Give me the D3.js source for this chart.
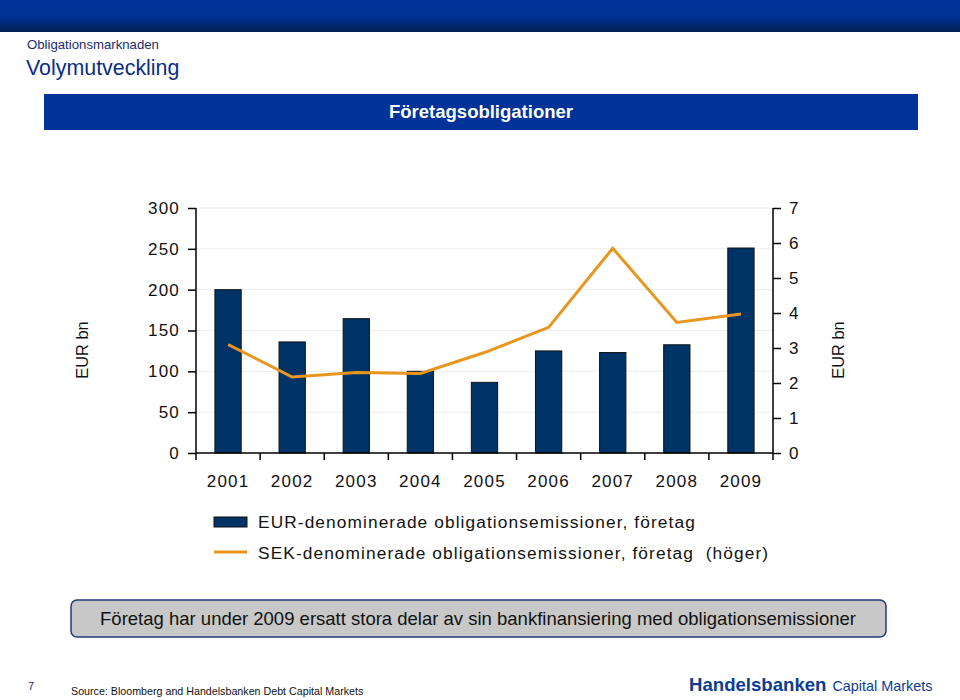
<!DOCTYPE html>
<html><head><meta charset="utf-8">
<script src="https://cdn.jsdelivr.net/npm/d3@7/dist/d3.min.js"></script>
<style>
body{margin:0;background:#fff;}
svg{display:block;font-family:"Liberation Sans",Arial,sans-serif;}
</style></head>
<body>
<svg id="c" width="960" height="700"></svg>
<script>
const years = ["2001","2002","2003","2004","2005","2006","2007","2008","2009"];
const eurValues = [200,136,164.5,100,86.5,125,123,132.5,251];
const sekValues = [3.1,2.17,2.3,2.27,2.87,3.59,5.85,3.73,3.97];
const leftTicks = [0,50,100,150,200,250,300];
const rightTicks = [0,1,2,3,4,5,6,7];
const legendLabels = ["EUR-denominerade obligationsemissioner, företag","SEK-denominerade obligationsemissioner, företag  (höger)"];

const svg = d3.select("#c");
const defs = svg.append("defs");
const g1 = defs.append("linearGradient").attr("id","hdr").attr("x1",0).attr("y1",0).attr("x2",0).attr("y2",1);
g1.append("stop").attr("offset","0%").attr("stop-color","#003399");
g1.append("stop").attr("offset","55%").attr("stop-color","#003091");
g1.append("stop").attr("offset","100%").attr("stop-color","#00224f");

svg.append("rect").attr("x",0).attr("y",0).attr("width",960).attr("height",32).attr("fill","url(#hdr)");
svg.append("text").attr("x",27).attr("y",49).attr("font-size",13.2).attr("fill","#1b2c6e").text("Obligationsmarknaden");
svg.append("text").attr("x",26).attr("y",75).attr("font-size",21.4).attr("fill","#0b2d85").text("Volymutveckling");

svg.append("rect").attr("x",44).attr("y",94).attr("width",874).attr("height",36).attr("fill","#003399");
svg.append("text").attr("x",481).attr("y",118).attr("text-anchor","middle").attr("font-size",18.5).attr("font-weight","bold").attr("fill","#fff").text("Företagsobligationer");

const x0 = 196, x1 = 773, yTop = 208, yBot = 453;
const x = d3.scaleBand().domain(years).range([x0,x1]).padding(0);
const yL = d3.scaleLinear().domain([0,300]).range([yBot,yTop]);
const yR = d3.scaleLinear().domain([0,7]).range([yBot,yTop]);

// gridlines
svg.append("g").selectAll("line").data(leftTicks.slice(1)).join("line")
  .attr("x1",x0).attr("x2",x1).attr("y1",d=>yL(d)).attr("y2",d=>yL(d))
  .attr("stroke","#ececec").attr("stroke-width",1);

// bars
const bw = x.bandwidth()*0.41;
svg.append("g").selectAll("rect").data(years).join("rect")
  .attr("x",(d)=>x(d)+x.bandwidth()/2-bw/2)
  .attr("y",(d,i)=>yL(eurValues[i]))
  .attr("width",bw)
  .attr("height",(d,i)=>yBot-yL(eurValues[i]))
  .attr("fill","#003366").attr("stroke","#111").attr("stroke-width",1);

// line
const line = d3.line().x((d,i)=>x(years[i])+x.bandwidth()/2).y(d=>yR(d));
svg.append("path").datum(sekValues).attr("d",line).attr("fill","none")
  .attr("stroke","#e8961e").attr("stroke-width",3).attr("stroke-linejoin","miter");

// axes
const fs = 17;
const axL = svg.append("g").attr("transform",`translate(${x0},0)`).call(d3.axisLeft(yL).tickValues(leftTicks).tickSize(8).tickPadding(8));
const axR = svg.append("g").attr("transform",`translate(${x1},0)`).call(d3.axisRight(yR).tickValues(rightTicks).tickFormat(d3.format("d")).tickSize(8).tickPadding(8));
const axB = svg.append("g").attr("transform",`translate(0,${yBot})`).call(d3.axisBottom(x).tickSize(0).tickPadding(22));
// band boundary ticks
const bounds = years.map(d=>x(d)).concat([x1]);
svg.append("g").selectAll("line").data(bounds).join("line")
  .attr("x1",d=>d).attr("x2",d=>d).attr("y1",yBot).attr("y2",yBot+7)
  .attr("stroke","#000").attr("stroke-width",1.5);
[axL,axR,axB].forEach(a=>{
  a.selectAll("text").attr("font-size",fs).attr("letter-spacing",1.2).attr("font-family","Liberation Sans, Arial, sans-serif").attr("fill","#111");
  a.selectAll("line").attr("stroke","#000").attr("stroke-width",1.5);
  a.select(".domain").attr("stroke","#000").attr("stroke-width",1.5);
});
axL.select(".domain").attr("d",`M0,${yTop}V${yBot}`);
axR.select(".domain").attr("d",`M0,${yTop}V${yBot}`);
axB.select(".domain").attr("d",`M${x0},0H${x1}`);

// axis titles
svg.append("text").attr("transform","translate(88,350) rotate(-90)").attr("text-anchor","middle").attr("font-size",16.4).attr("fill","#111").text("EUR bn");
svg.append("text").attr("transform","translate(844,350) rotate(-90)").attr("text-anchor","middle").attr("font-size",16.4).attr("fill","#111").text("EUR bn");

// legend
const lg = svg.append("g");
lg.append("rect").attr("x",214).attr("y",517).attr("width",33).attr("height",10).attr("fill","#003366").attr("stroke","#111").attr("stroke-width",1);
lg.append("line").attr("x1",214).attr("x2",247).attr("y1",552).attr("y2",552).attr("stroke","#e8961e").attr("stroke-width",3);
lg.selectAll("text").data(legendLabels).join("text")
  .attr("x",258).attr("y",(d,i)=>528+i*31).attr("font-size",17.3).attr("letter-spacing",1.1).attr("fill","#111")
  .attr("xml:space","preserve").style("white-space","pre").text(d=>d);

// callout
svg.append("rect").attr("x",71).attr("y",600).attr("width",815).attr("height",37).attr("rx",6)
  .attr("fill","#c8c8c8").attr("stroke","#1f3a7a").attr("stroke-width",1.5);
svg.append("text").attr("x",478).attr("y",625).attr("text-anchor","middle").attr("font-size",18.5).attr("fill","#111")
  .text("Företag har under 2009 ersatt stora delar av sin bankfinansiering med obligationsemissioner");

// footer
svg.append("text").attr("x",28).attr("y",690).attr("font-size",11).attr("fill","#1b2c6e").text("7");
svg.append("text").attr("x",71).attr("y",695).attr("font-size",10.7).attr("fill","#111").text("Source: Bloomberg and Handelsbanken Debt Capital Markets");
const logo = svg.append("text").attr("x",689).attr("y",691).attr("fill","#0b3d91");
logo.append("tspan").attr("font-size",18.6).attr("font-weight","bold").text("Handelsbanken");
logo.append("tspan").attr("font-size",14.4).attr("dx",6).text("Capital Markets");
</script>
</body></html>
